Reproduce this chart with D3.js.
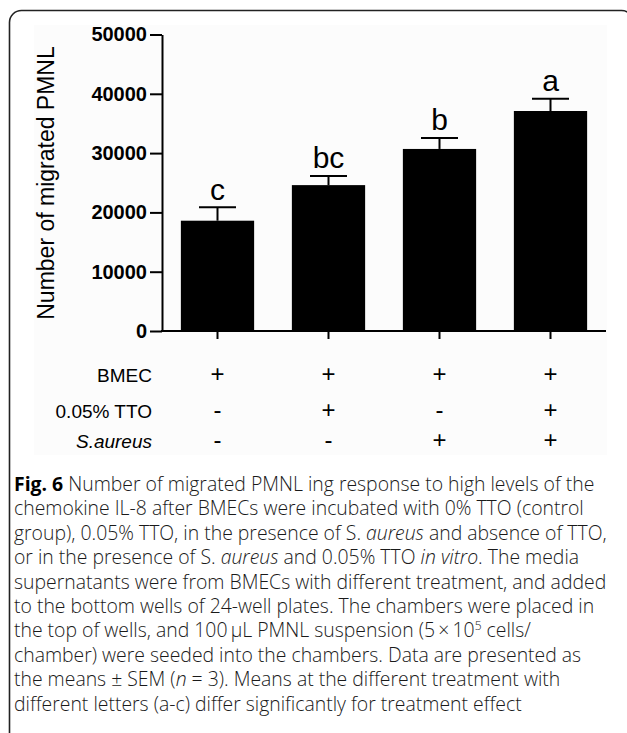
<!DOCTYPE html>
<html>
<head>
<meta charset="utf-8">
<script src="https://cdn.jsdelivr.net/npm/d3@7/dist/d3.min.js"></script>
<style>
  html, body { margin: 0; padding: 0; background: #fff; }
  svg { display: block; }
</style>
</head>
<body>
<svg id="fig" width="627" height="733"></svg>
<script>
// Treatment groups and measured values
const groups   = ["G1", "G2", "G3", "G4"];
const means    = [18600, 24600, 30700, 37100];
const sem      = [2250, 1550, 1850, 2050];
const letters  = ["c", "bc", "b", "a"];
const yTicks   = [0, 10000, 20000, 30000, 40000, 50000];

// Treatment design table
const rowLabels = ["BMEC", "0.05% TTO", "S.aureus"];
const bmec      = ["+", "+", "+", "+"];
const tto       = ["-", "+", "-", "+"];
const saureus   = ["-", "-", "+", "+"];

const svg = d3.select("#fig");

// figure frame (rounded box, open at the bottom of the page)
svg.append("rect")
  .attr("x", 34).attr("y", 25).attr("width", 573).attr("height", 430)
  .attr("fill", "#fcfcfc");
svg.append("rect")
  .attr("x", 9.5).attr("y", 10.5).attr("width", 624).attr("height", 900)
  .attr("rx", 12).attr("ry", 12)
  .attr("fill", "none").attr("stroke", "#222").attr("stroke-width", 1.6);

const x = d3.scaleBand().domain(groups).range([162, 606])
  .paddingInner(0.34).paddingOuter(0.17);
const y = d3.scaleLinear().domain([0, 50000]).range([331, 34.5]);

const g = svg.append("g");

// bars
g.selectAll("rect.bar").data(groups).join("rect")
  .attr("class", "bar")
  .attr("x", d => x(d))
  .attr("width", x.bandwidth())
  .attr("y", (d, i) => y(means[i]))
  .attr("height", (d, i) => y(0) - y(means[i]))
  .attr("fill", "#000");

// error bars (upper SEM) with significance letters
const capW = 37;
groups.forEach((d, i) => {
  const cx = x(d) + x.bandwidth() / 2;
  const top = y(means[i] + sem[i]);
  g.append("line")
    .attr("x1", cx).attr("x2", cx)
    .attr("y1", y(means[i])).attr("y2", top)
    .attr("stroke", "#000").attr("stroke-width", 2);
  g.append("line")
    .attr("x1", cx - capW / 2).attr("x2", cx + capW / 2)
    .attr("y1", top).attr("y2", top)
    .attr("stroke", "#000").attr("stroke-width", 2);
  g.append("text")
    .attr("x", cx).attr("y", top - 7.5)
    .attr("text-anchor", "middle")
    .attr("font-family", "Liberation Sans, Arial, sans-serif")
    .attr("font-size", 30)
    .attr("fill", "#000")
    .text(letters[i]);
});

// y axis
const yAxis = g.append("g").attr("transform", "translate(162,0)")
  .call(d3.axisLeft(y).tickValues(yTicks).tickFormat(d3.format("d"))
    .tickSize(12).tickSizeOuter(0).tickPadding(3));
yAxis.select(".domain").attr("stroke", "#000").attr("stroke-width", 2);
yAxis.selectAll(".tick line").attr("stroke", "#000").attr("stroke-width", 2);
yAxis.selectAll(".tick text")
  .attr("font-family", "Liberation Sans, Arial, sans-serif")
  .attr("font-weight", "bold").attr("font-size", 20).attr("fill", "#000");

// x axis
const xAxis = g.append("g").attr("transform", "translate(0,331)")
  .call(d3.axisBottom(x).tickSize(8).tickSizeOuter(0).tickFormat(""));
xAxis.select(".domain").attr("stroke", "#000").attr("stroke-width", 2)
  .attr("d", "M161,0H606");
xAxis.selectAll(".tick line").attr("stroke", "#000").attr("stroke-width", 2);

// y axis title
g.append("text")
  .attr("transform", "translate(54,183) rotate(-90)")
  .attr("text-anchor", "middle")
  .attr("font-family", "Liberation Sans, Arial, sans-serif")
  .attr("font-size", 23).attr("fill", "#000")
  .text("Number of migrated PMNL");

// treatment table
const rows = [bmec, tto, saureus];
const rowY = [381.5, 418, 448];
rows.forEach((vals, r) => {
  g.append("text")
    .attr("x", 152).attr("y", rowY[r])
    .attr("text-anchor", "end")
    .attr("font-family", "Liberation Sans, Arial, sans-serif")
    .attr("font-size", 19)
    .attr("font-style", r === 2 ? "italic" : "normal")
    .attr("fill", "#000")
    .text(rowLabels[r]);
  vals.forEach((v, i) => {
    g.append("text")
      .attr("x", x(groups[i]) + x.bandwidth() / 2).attr("y", rowY[r])
      .attr("text-anchor", "middle")
      .attr("font-family", "Liberation Sans, Arial, sans-serif")
      .attr("font-size", 24)
      .attr("fill", "#000")
      .text(v);
  });
});

// caption: each part is [text, style] with b = bold, i = italic, s = superscript
const capLines = [
  [["Fig. 6", "b"], [" Number of migrated PMNL ing response to high levels of the"]],
  [["chemokine IL-8 after BMECs were incubated with 0% TTO (control"]],
  [["group), 0.05% TTO, in the presence of S. "], ["aureus", "i"], [" and absence of TTO,"]],
  [["or in the presence of S. "], ["aureus", "i"], [" and 0.05% TTO "], ["in vitro", "i"], [". The media"]],
  [["supernatants were from BMECs with different treatment, and added"]],
  [["to the bottom wells of 24-well plates. The chambers were placed in"]],
  [["the top of wells, and 100\u2009\u03bcL PMNL suspension (5\u2009\u00d7\u200910"], ["5", "s"], [" cells/", "after"]],
  [["chamber) were seeded into the chambers. Data are presented as"]],
  [["the means \u00b1 SEM ("], ["n", "i"], [" = 3). Means at the different treatment with"]],
  [["different letters (a-c) differ significantly for treatment effect"]]
];
const cap = svg.append("g")
  .attr("font-family", "Open Sans, sans-serif")
  .attr("font-size", 19.4)
  .attr("font-weight", 300)
  .attr("fill", "#1a1a1a");
capLines.forEach((parts, k) => {
  const t = cap.append("text").attr("x", 14).attr("y", 491 + k * 24.4);
  parts.forEach(([s, f]) => {
    const sp = t.append("tspan").text(s);
    if (f === "b") sp.attr("font-weight", "bold").attr("fill", "#000");
    if (f === "i") sp.attr("font-style", "italic");
    if (f === "s") sp.attr("font-size", 12).attr("dy", -7);
    if (f === "after") sp.attr("dy", 7);
  });
});
</script>
</body>
</html>
